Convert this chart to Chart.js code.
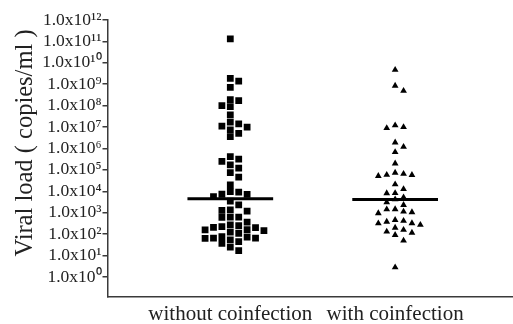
<!DOCTYPE html>
<html>
<head>
<meta charset="utf-8">
<script src="https://cdn.jsdelivr.net/npm/chart.js@4/dist/chart.umd.min.js"></script>
<style>
  html, body { margin: 0; padding: 0; background: #ffffff; overflow: hidden; }
  #wrap { width: 513px; height: 324px; position: relative; }
  canvas { display: block; }
</style>
</head>
<body>
<div id="wrap"><canvas id="c" width="513" height="324"></canvas></div>
<script>
// ---- data ----
const categories = ['without coinfection', 'with coinfection'];
const yAxisTitle = 'Viral load ( copies/ml )';
const yTickExponents = [0, 1, 2, 3, 4, 5, 6, 7, 8, 9, 10, 11, 12];

// viral loads (copies/ml), group without coinfection
const withoutCoinfection = [
  1.3e11, 1.9e9, 1.4e9, 7.1e8, 1.7e8, 1.9e8, 1.0e8, 9.1e7, 3.7e7, 1.7e7,
  1.1e7, 7.4e6, 1.0e7, 1.4e7, 5.1e6, 3.6e6, 4.2e5, 2.5e5, 3.2e5, 1.7e5,
  1.2e5, 7.4e4, 4.6e4, 2.0e4, 9.8e3, 7.2e3, 5.6e3, 7.3e3, 9.1e3, 3.5e3,
  2.3e3, 1.35e3, 1.2e3, 1.3e3, 615, 620, 625, 360, 250, 200,
  205, 225, 270, 123, 158, 145, 160, 110, 72, 65,
  54, 37, 65, 64, 76, 45, 17, 25
];
// viral loads (copies/ml), group with coinfection
const withCoinfection = [
  4.7e9, 8.5e8, 4.9e8, 1.0e7, 8.9e6, 1.2e7, 1.9e6, 1.2e6, 6.8e5, 2.0e5,
  6.5e4, 5.9e4, 5.2e4, 5.8e4, 7.4e4, 2.1e4, 8.1e3, 8.2e3, 1.26e4, 4.2e3,
  3.1e3, 5.2e3, 2.3e3, 1.45e3, 950, 1.05e3, 1.12e3, 1.44e3, 320, 420,
  380, 460, 270, 325, 200, 91, 132, 158, 117, 50,
  2.8
];

// ---- helpers ----
function median(arr) {
  const s = arr.slice().sort((a, b) => a - b);
  const n = s.length;
  return n % 2 ? s[(n - 1) / 2] : (s[n / 2 - 1] + s[n / 2]) / 2;
}
const SLOT = 0.051;   // horizontal spacing of swarm slots (x units)
const GAP = 0.29;     // vertical clearance in decades
function swarm(values, center) {
  const order = values.map((v, i) => i).sort((a, b) => values[b] - values[a]);
  const placed = [];
  const pts = new Array(values.length);
  order.forEach(i => {
    const lv = Math.log10(values[i]);
    for (let k = 0; k < 40; k++) {
      const slot = k === 0 ? 0 : (k % 2 === 1 ? (k + 1) / 2 : -(k / 2));
      if (!placed.some(p => p.slot === slot && Math.abs(p.lv - lv) < GAP)) {
        placed.push({ slot, lv });
        pts[i] = { x: center + slot * SLOT, y: values[i] };
        break;
      }
    }
  });
  return pts;
}
const SUP = { '0': '\u2070', '1': '\u00B9', '2': '\u00B2', '3': '\u00B3', '4': '\u2074',
  '5': '\u2075', '6': '\u2076', '7': '\u2077', '8': '\u2078', '9': '\u2079' };
function tickLabel(exp) {
  return '1.0x10' + String(exp).split('').map(d => SUP[d]).join('');
}

const HALF = 0.26;
const groups = [withoutCoinfection, withCoinfection];
const medianSets = groups.map((g, i) => {
  const m = median(g);
  return [{ x: i + 1 - HALF, y: m }, { x: i + 1 + HALF, y: m }];
});

const FONT = '"Liberation Serif", "Times New Roman", serif';
const TXT = '#222222';
const AX = '#3a3a3a';

const yTitlePlugin = {
  id: 'yTitle',
  afterDraw(chart) {
    const ctx = chart.ctx;
    ctx.save();
    ctx.translate(32, 143);
    ctx.rotate(-Math.PI / 2);
    ctx.font = '24.5px ' + FONT;
    ctx.fillStyle = TXT;
    ctx.textAlign = 'center';
    ctx.textBaseline = 'alphabetic';
    ctx.fillText(yAxisTitle, 0, 0);
    ctx.restore();
  }
};
const bgPlugin = {
  id: 'bg',
  beforeDraw(chart) {
    const ctx = chart.ctx;
    ctx.save();
    ctx.fillStyle = '#ffffff';
    ctx.fillRect(0, 0, chart.width, chart.height);
    ctx.restore();
  }
};

new Chart(document.getElementById('c'), {
  type: 'scatter',
  data: {
    datasets: [
      {
        label: categories[0],
        data: swarm(withoutCoinfection, 1),
        pointStyle: 'rect',
        pointRadius: 4.8,
        pointBackgroundColor: '#000000',
        pointBorderWidth: 0
      },
      {
        label: categories[1],
        data: swarm(withCoinfection, 2),
        pointStyle: 'triangle',
        pointRadius: 3.9,
        pointBackgroundColor: '#000000',
        pointBorderWidth: 0
      },
      {
        label: 'median 1',
        data: medianSets[0],
        showLine: true,
        borderColor: '#000000',
        borderWidth: 3,
        pointRadius: 0
      },
      {
        label: 'median 2',
        data: medianSets[1],
        showLine: true,
        borderColor: '#000000',
        borderWidth: 3,
        pointRadius: 0
      }
    ]
  },
  options: {
    responsive: false,
    animation: false,
    devicePixelRatio: 1,
    layout: { autoPadding: false, padding: { top: 20, right: 0, left: 0, bottom: 0 } },
    plugins: { legend: { display: false }, tooltip: { enabled: false } },
    scales: {
      x: {
        type: 'linear',
        min: 0.255,
        max: 2.715,
        afterFit(scale) { scale.height = 27; scale.paddingLeft = 0; scale.paddingRight = 0; },
        afterBuildTicks(scale) { scale.ticks = [{ value: 1 }, { value: 2 }]; },
        grid: { display: true, drawOnChartArea: false, drawTicks: false },
        border: { display: true, color: AX, width: 1.5 },
        ticks: {
          padding: 5,
          color: TXT,
          font: { family: FONT, size: 21 },
          maxRotation: 0,
          autoSkip: false,
          callback: (v) => categories[Math.round(v) - 1] || ''
        }
      },
      y: {
        type: 'logarithmic',
        min: 0.116,
        max: 1e12,
        afterFit(scale) { scale.width = 107.5; scale.paddingTop = 0; scale.paddingBottom = 0; },
        afterBuildTicks(scale) { scale.ticks = yTickExponents.map(e => ({ value: Math.pow(10, e) })); },
        grid: { display: true, drawOnChartArea: false, drawTicks: true, tickLength: 5, color: AX, lineWidth: 1.5 },
        border: { display: true, color: AX, width: 1.5 },
        ticks: {
          padding: 1,
          color: TXT,
          font: { family: FONT, size: 17.5 },
          autoSkip: false,
          callback: (v) => tickLabel(Math.round(Math.log10(v)))
        }
      }
    }
  },
  plugins: [bgPlugin, yTitlePlugin]
});
</script>
</body>
</html>
